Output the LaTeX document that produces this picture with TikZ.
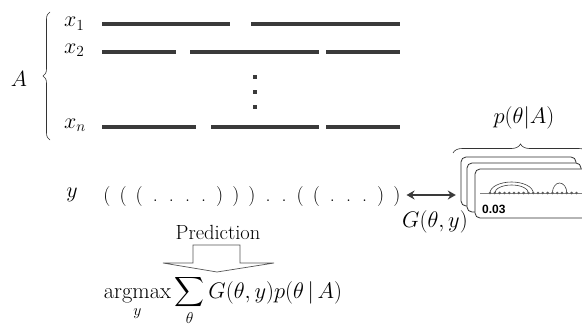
\RequirePackage{fix-cm}
\documentclass[tikz,border=0pt]{standalone}
\usepackage{amsmath}
\usepackage{fontspec}
\newfontfamily\lsans{Liberation Sans}
\usetikzlibrary{decorations.pathreplacing,arrows.meta}
\definecolor{barc}{HTML}{3A3A3A}
\definecolor{cardc}{HTML}{2E2E2E}
\definecolor{linec}{HTML}{808080}
\definecolor{dotc}{HTML}{5A5A5A}
\definecolor{arrc}{HTML}{555555}
\newcommand\chL{(}
\newcommand\chR{)}
\newcommand\chD{.}
\begin{document}
\begin{tikzpicture}[x=1pt,y=-1pt,
  bar/.style={line width=4.5pt, draw=barc},
  mlab/.style={font=\fontsize{22}{25}\selectfont, inner sep=0pt},
  big/.style={font=\fontsize{22.5}{26}\selectfont, inner sep=0pt},
  par/.style={font=\fontsize{20}{24}\selectfont, inner sep=0pt, anchor=base},
  card/.style={draw=cardc, fill=white, rounded corners=5pt, line width=0.8pt},
  brc/.style={decorate, draw=black!80, line width=0.6pt},
  ]
\useasboundingbox (0,0) rectangle (582,324);
% left brace and labels
\draw[brc, decoration={brace, amplitude=7pt}] (50,140) -- (50,12);
\node[mlab] (A) at (19,79) {$A$};
\node[mlab, anchor=base west] (x1) at (64,27) {$x_1$};
\node[mlab, anchor=base west] (x2) at (64,53) {$x_2$};
\node[mlab, anchor=base west] (xn) at (64,128) {$x_n$};
% bars
\draw[bar] (102,24) -- (230,24);
\draw[bar] (251,24) -- (400,24);
\draw[bar] (102,52) -- (176,52);
\draw[bar] (190,52) -- (319,52);
\draw[bar] (326,52) -- (400,52);
\draw[bar] (102,127) -- (196,127);
\draw[bar] (211,127) -- (319,127);
\draw[bar] (326,127) -- (400,127);
\foreach \yy in {77,92,107} \fill[barc] (253,\yy-2) rectangle (257,\yy+2);
% y row
\node[mlab, anchor=base] (y) at (72,197) {$y$};
\foreach \c [count=\i from 0] in {L,L,L,D,D,D,D,R,R,R,D,D,L,L,D,D,D,R,R}
  \node[par] (p\i) at ({107+16.1*\i},201) {\csname ch\c\endcsname};
% cards
\draw[card] (461,157) rectangle (576,206);
\draw[card] (467,163) rectangle (581,212);
\draw[card] (475,169) rectangle (597,218);
\node[inner sep=0pt, minimum size=0pt] (card1) at (461,195) {};
\draw[linec, line width=0.7pt] (480,193) -- (600,193);
\draw[black!75, line width=0.6pt] (490,193) arc[start angle=180, end angle=0, x radius=21.6pt, y radius=11pt];
\draw[black!75, line width=0.6pt] (494.8,193) arc[start angle=180, end angle=0, x radius=16.8pt, y radius=8pt];
\draw[black!75, line width=0.6pt] (552.4,193) arc[start angle=180, end angle=0, x radius=7.2pt, y radius=10pt];
\foreach \i in {0,...,18} \fill[dotc] ({490+4.8*\i},193) circle[radius=1.4pt];
\node[font=\lsans\bfseries\fontsize{12}{14}\selectfont, anchor=base west, inner sep=0pt] (val) at (482,213) {0.03};
% top brace
\draw[brc, decoration={brace, amplitude=9pt}] (453,153) -- (588,153);
\node[big] (pA) at (524,118) {$p(\theta|A)$};
% double arrow
\draw[{Stealth[length=8pt,width=9pt]}-{Stealth[length=8pt,width=9pt]}, line width=2.2pt, draw=barc, shorten <=6pt, shorten >=5pt]
  (p18.east |- card1.center) -- (card1.west);
\node[big] (G) at (435,222) {$G(\theta,y)$};
% prediction arrow
\node[font=\fontsize{20.5}{24}\selectfont, inner sep=0pt] (pred) at (218,232) {Prediction};
\draw[draw=arrc, fill=white, line width=0.7pt] (193,263) -- (193,245) -- (240,245) -- (240,263) -- (274,263) -- (217,272) -- (163,263) -- cycle;
\node[font=\fontsize{22.5}{26}\selectfont, inner sep=0pt, anchor=base] (f) at (223,298) {$\displaystyle \mathop{\text{argmax}}_{y} \sum_{\theta} G(\theta,y)p(\theta\,|\,A)$};
\end{tikzpicture}
\end{document}
